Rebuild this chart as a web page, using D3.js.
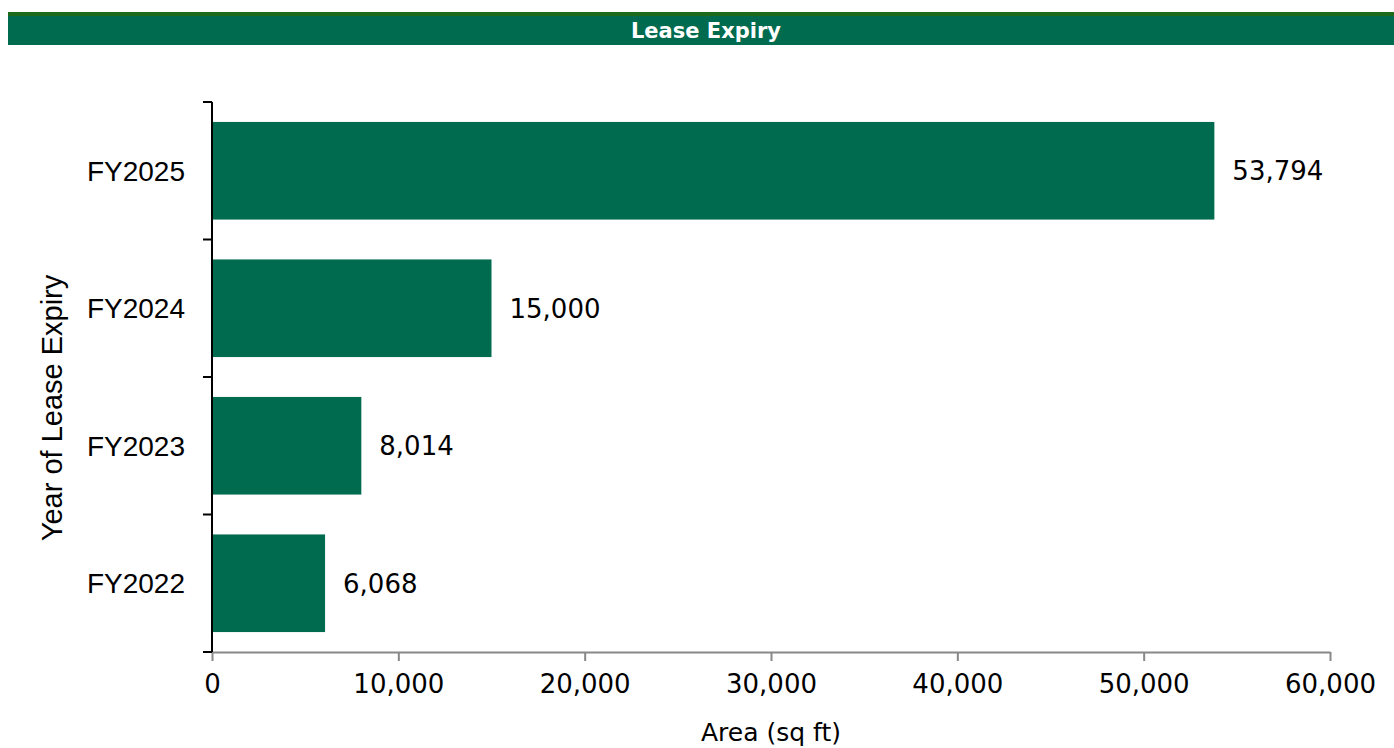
<!DOCTYPE html>
<html>
<head>
<meta charset="utf-8">
<script src="https://cdn.jsdelivr.net/npm/d3@7"></script>
<style>
  body { margin: 0; background: #fff; }
  svg { display: block; font-family: "DejaVu Sans", sans-serif; }
</style>
</head>
<body>
<div id="chart"></div>
<script>
// data
var years = ["FY2025", "FY2024", "FY2023", "FY2022"];
var areas = [53794, 15000, 8014, 6068];
var xTicks = [0, 10000, 20000, 30000, 40000, 50000, 60000];

var width = 1394, height = 748;
var margin = {top: 102, right: 64, bottom: 96, left: 212};
var innerWidth = width - margin.left - margin.right;
var innerHeight = height - margin.top - margin.bottom;
var green = "#006b4e";

var data = years.map(function(y, i) { return {year: y, area: areas[i]}; });

function init() {
  var svg = d3.select('#chart').append('svg')
      .attr('width', width)
      .attr('height', height);

  // title band
  svg.append('rect').attr('x', 8).attr('y', 12).attr('width', width - 8).attr('height', 4).attr('fill', '#1d6a1b');
  svg.append('rect').attr('x', 8).attr('y', 16).attr('width', width - 8).attr('height', 29).attr('fill', green);
  svg.append('text')
      .attr('x', 706).attr('y', 38)
      .attr('text-anchor', 'middle')
      .attr('fill', '#fff')
      .attr('font-weight', 'bold')
      .attr('font-size', 21)
      .text('Lease Expiry');

  var xScale = d3.scaleLinear().domain([0, 60000]).range([0, innerWidth]);
  var yScale = d3.scaleBand().domain(years).range([0, innerHeight]).paddingInner(0.29).paddingOuter(0.145);

  var g = svg.append('g').attr('transform', `translate(${margin.left},${margin.top})`);

  // x axis
  var xAxis = g.append('g')
      .attr('transform', `translate(0,${innerHeight})`)
      .call(d3.axisBottom(xScale).tickValues(xTicks).tickSize(9).tickSizeOuter(0).tickPadding(14)
            .tickFormat(d3.format(',')));
  xAxis.select('.domain').attr('stroke', '#888').attr('stroke-width', 2);
  xAxis.selectAll('.tick line').attr('stroke', '#888').attr('stroke-width', 2);
  xAxis.selectAll('text').attr('font-size', 26).attr('fill', '#000').attr('dy', '0.71em')
      .attr('font-family', '"DejaVu Sans", sans-serif');

  // bars
  g.append('g').selectAll('rect')
    .data(data)
    .join('rect')
    .attr('x', 0)
    .attr('y', d => yScale(d.year))
    .attr('width', d => xScale(d.area))
    .attr('height', yScale.bandwidth())
    .attr('fill', green);

  // value labels
  g.append('g').selectAll('text')
    .data(data)
    .join('text')
    .attr('x', d => xScale(d.area) + 18)
    .attr('y', d => yScale(d.year) + yScale.bandwidth() / 2)
    .attr('dy', '0.36em')
    .attr('font-size', 26)
    .text(d => d3.format(',')(d.area));

  // y axis (category boundaries as ticks)
  var yAxisG = g.append('g');
  yAxisG.append('line').attr('x1', 0).attr('x2', 0).attr('y1', 0).attr('y2', innerHeight)
      .attr('stroke', '#000').attr('stroke-width', 2);
  var step = innerHeight / years.length;
  yAxisG.selectAll('line.tk')
    .data(d3.range(years.length + 1))
    .join('line')
    .attr('class', 'tk')
    .attr('x1', -9).attr('x2', 0)
    .attr('y1', d => d * step).attr('y2', d => d * step)
    .attr('stroke', '#000').attr('stroke-width', 2);
  yAxisG.selectAll('text')
    .data(years)
    .join('text')
    .attr('x', -27)
    .attr('y', d => yScale(d) + yScale.bandwidth() / 2)
    .attr('dy', '0.36em')
    .attr('text-anchor', 'end')
    .attr('font-family', '"Liberation Sans", Arial, sans-serif')
    .attr('font-size', 28)
    .text(d => d);

  // axis titles
  svg.append('text')
      .attr('transform', 'translate(62,408) rotate(-90)')
      .attr('text-anchor', 'middle')
      .attr('font-family', '"Liberation Sans", Arial, sans-serif')
      .attr('font-size', 29)
      .text('Year of Lease Expiry');
  svg.append('text')
      .attr('x', 771).attr('y', 741)
      .attr('text-anchor', 'middle')
      .attr('font-size', 25)
      .text('Area (sq ft)');
}

window.onload = init;
</script>
</body>
</html>
